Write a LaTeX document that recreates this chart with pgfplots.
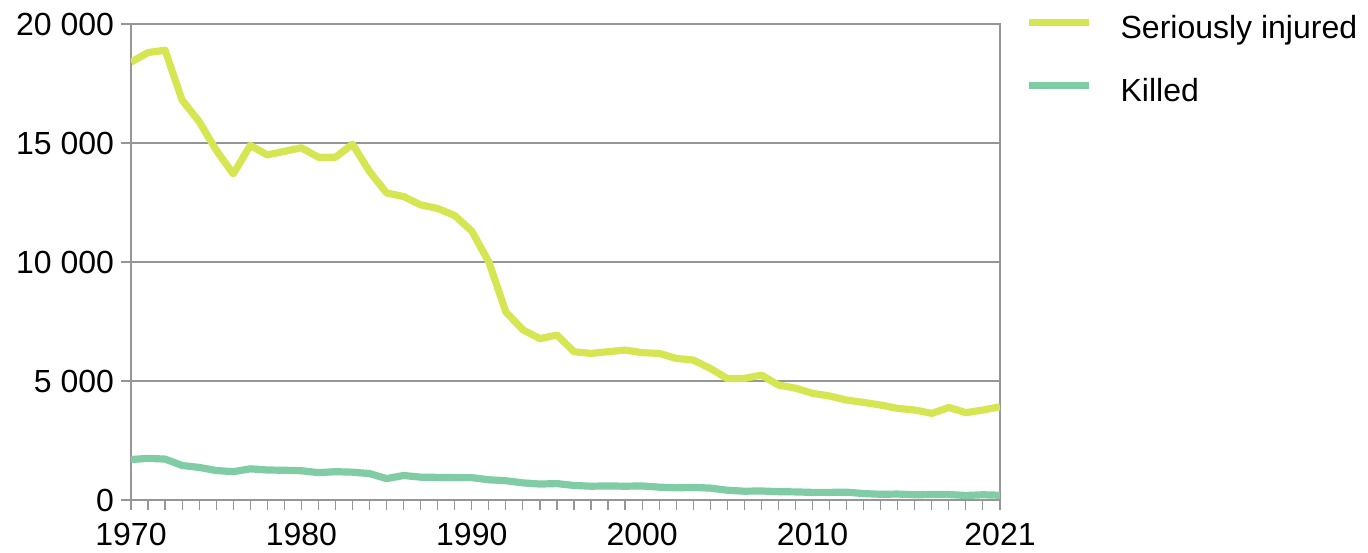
\documentclass[border=0pt]{standalone}
\usepackage{pgfplots}
\pgfplotsset{compat=1.18}
\usepackage{fontspec}
\setmainfont{Liberation Sans}

\definecolor{injured}{RGB}{214,230,82}
\definecolor{killed}{RGB}{128,204,164}
\definecolor{gridgray}{RGB}{150,150,150}

\pgfplotstableread{
year value
1970 18400
1971 18800
1972 18900
1973 16800
1974 15900
1975 14700
1976 13700
1977 14900
1978 14500
1979 14650
1980 14800
1981 14400
1982 14400
1983 14950
1984 13800
1985 12900
1986 12750
1987 12400
1988 12250
1989 11950
1990 11300
1991 10000
1992 7900
1993 7150
1994 6780
1995 6930
1996 6230
1997 6160
1998 6230
1999 6300
2000 6190
2001 6160
2002 5950
2003 5880
2004 5530
2005 5100
2006 5110
2007 5250
2008 4830
2009 4700
2010 4480
2011 4370
2012 4200
2013 4100
2014 3990
2015 3850
2016 3780
2017 3640
2018 3890
2019 3670
2020 3780
2021 3920
}\injuredtable

\pgfplotstableread{
year value
1970 1700
1971 1750
1972 1720
1973 1450
1974 1370
1975 1240
1976 1190
1977 1310
1978 1260
1979 1250
1980 1230
1981 1150
1982 1190
1983 1170
1984 1110
1985 900
1986 1030
1987 960
1988 950
1989 940
1990 940
1991 850
1992 810
1993 720
1994 670
1995 690
1996 610
1997 580
1998 590
1999 580
2000 590
2001 540
2002 510
2003 530
2004 500
2005 410
2006 370
2007 380
2008 350
2009 340
2010 320
2011 320
2012 330
2013 270
2014 240
2015 250
2016 220
2017 230
2018 230
2019 190
2020 220
2021 200
}\killedtable

\begin{document}
\begin{tikzpicture}
\path[use as bounding box] (-65.5pt,-26pt) rectangle (618.5pt,250pt);
\begin{axis}[
    at={(0pt,0pt)}, anchor=south west,
    scale only axis,
    width=434.5pt, height=238pt,
    xmin=1970, xmax=2021,
    ymin=0, ymax=20000,
    scaled y ticks=false,
    axis line style={gridgray, line width=0.7pt},
    xtick={1970,1980,1990,2000,2010,2021},
    minor xtick={1970,...,2021},
    ytick={0,5000,10000,15000,20000},
    yticklabels={0,5 000,10 000,15 000,20 000},
    xticklabel style={/pgf/number format/1000 sep={}, yshift=-3pt,
        font=\fontsize{16}{18}\selectfont},
    yticklabel style={font=\fontsize{16}{18}\selectfont},
    tick align=outside,
    xtick pos=bottom, ytick pos=left,
    major tick length=5pt, minor tick length=5pt,
    tick style={gridgray, line width=0.6pt},
    ymajorgrids,
    grid style={gridgray, line width=0.7pt},
    /pgf/number format/assume math mode=true,
    legend style={
        draw=none, fill=none,
        at={(1,1)}, anchor=north west,
        xshift=12.5pt, yshift=4pt,
        inner sep=0pt,
        font=\fontsize{16}{18}\selectfont,
        row sep=17.5pt,
        nodes={inner sep=0pt, text height=11pt, text depth=3pt},
    },
    legend cell align=left,
    legend image code/.code={
        \draw[#1, line cap=butt] (0pt,4pt) -- (30pt,4pt);
    },
    every axis legend/.append style={column sep=14pt},
]
\addplot[injured, line width=3.6pt, line join=round, mark=none] table[x=year, y=value] {\injuredtable};
\addlegendentry{Seriously injured}
\addplot[killed, line width=3.6pt, line join=round, mark=none] table[x=year, y=value] {\killedtable};
\addlegendentry{Killed}
\end{axis}
\end{tikzpicture}
\end{document}
